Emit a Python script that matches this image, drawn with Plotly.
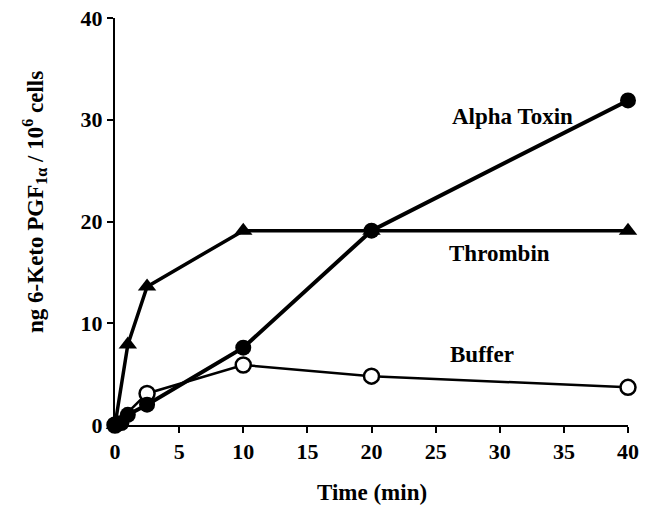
import plotly.graph_objects as go

time_alpha = [0, 0.5, 1, 2.5, 10, 20, 40]
alpha_toxin = [0, 0.2, 1.0, 2.0, 7.6, 19.1, 31.9]
time_thrombin = [0, 1, 2.5, 10, 20, 40]
thrombin = [0, 7.9, 13.6, 19.1, 19.1, 19.1]
time_buffer = [0, 2.5, 10, 20, 40]
buffer = [0, 3.1, 5.9, 4.8, 3.7]

x_ticks = [0, 5, 10, 15, 20, 25, 30, 35, 40]
y_ticks = [0, 10, 20, 30, 40]

FAM = "Liberation Serif"
font = dict(family=FAM, size=22, color="black")
lab_font = dict(family=FAM, size=23, color="black")

fig = go.Figure()
fig.add_trace(go.Scatter(x=time_buffer, y=buffer, mode="lines+markers",
                         line=dict(color="black", width=2.5),
                         marker=dict(symbol="circle", size=15, color="white",
                                     line=dict(color="black", width=2.5)),
                         cliponaxis=False))
fig.add_trace(go.Scatter(x=time_alpha, y=alpha_toxin, mode="lines+markers",
                         line=dict(color="black", width=4),
                         marker=dict(symbol="circle", size=16, color="black"),
                         cliponaxis=False))
fig.add_trace(go.Scatter(x=time_thrombin, y=thrombin, mode="lines+markers",
                         line=dict(color="black", width=3.5),
                         marker=dict(symbol="triangle-up", size=16, color="black"),
                         cliponaxis=False))

labels = [("Alpha Toxin", 31.0, 30.3), ("Thrombin", 30.0, 16.9), ("Buffer", 28.6, 6.9)]
for txt, x, y in labels:
    fig.add_annotation(x=x, y=y, text="<b>%s</b>" % txt, showarrow=False, font=lab_font)

fig.add_annotation(xref="paper", yref="paper", x=-0.156, y=0.548, xanchor="center", yanchor="middle",
                   text="<b>ng 6-Keto PGF<sub>1α</sub> / 10<sup>6</sup> cells</b>",
                   textangle=-90, showarrow=False, font=lab_font)
fig.add_annotation(xref="paper", yref="paper", x=0.5, y=-0.165, xanchor="center", yanchor="middle",
                   text="<b>Time (min)</b>", showarrow=False, font=lab_font)

fig.update_layout(
    width=647, height=516,
    margin=dict(l=107, r=27, t=10, b=99, autoexpand=False),
    plot_bgcolor="white", paper_bgcolor="white",
    showlegend=False,
    font=font,
    xaxis=dict(range=[0, 40], tickvals=x_ticks, ticktext=["<b>%d</b>" % v for v in x_ticks],
               showgrid=False, zeroline=False, showline=True, linecolor="black", linewidth=2,
               ticks="outside", ticklen=6, tickwidth=2, tickcolor="black", automargin=False,
               ticklabeloverflow="allow", tickfont=font),
    yaxis=dict(range=[0, 40], tickvals=y_ticks, ticktext=["<b>%d</b>" % v for v in y_ticks],
               showgrid=False, zeroline=False, showline=True, linecolor="black", linewidth=2,
               ticks="outside", ticklen=6, tickwidth=2, tickcolor="black", automargin=False,
               ticklabeloverflow="allow", tickfont=font),
)

fig.write_html("out.html")
